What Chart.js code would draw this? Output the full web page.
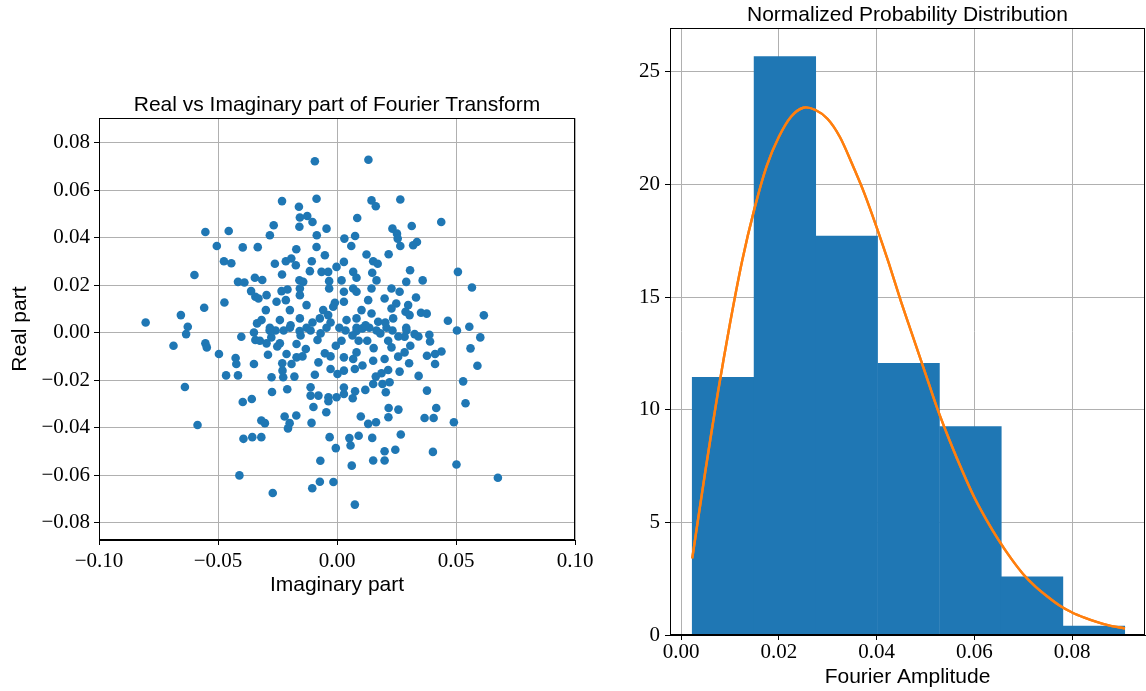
<!DOCTYPE html>
<html>
<head>
<meta charset="utf-8">
<title>Fourier Transform</title>
<script src="https://cdn.jsdelivr.net/npm/chart.js@4.4.1/dist/chart.umd.min.js"></script>
<style>
  body { margin: 0; background: #fff; }
  canvas { position: absolute; top: 0; }
  #scatterChart { left: 0; }
  #histChart { left: 600px; }
</style>
</head>
<body>
<canvas id="scatterChart" width="600" height="691"></canvas>
<canvas id="histChart" width="546" height="691"></canvas>
<script>
// imaginary part (x) and real part (y) of each Fourier coefficient
const imagPart = [
  -0.0553, -0.0455, -0.0505, -0.0396, -0.0333, -0.0475, -0.0444, -0.0599, -0.0416, -0.0389,
  -0.0345, -0.0361, -0.0343, -0.0473, -0.0558, -0.0656, -0.0804, -0.0627, -0.0336,
  -0.0634, -0.0687, -0.0553, -0.0547, -0.0496, -0.0402, -0.0349, -0.0343, -0.0426, -0.0423,
  -0.0349, -0.0466, -0.0416, -0.0639, -0.0396, -0.0358, -0.0586, -0.0393, -0.0356, -0.0410,
  0.0438, 0.0336, 0.0508, 0.0360, 0.0567, 0.0332, 0.0353, 0.0377, 0.0466, 0.0556, 0.0617, 0.0504,
  0.0342, 0.0388, 0.0391, 0.0602, 0.0308, 0.0378, 0.0412, 0.0439, 0.0412, 0.0561, 0.0590,
  0.0343, 0.0530, 0.0378, 0.0540, 0.0417, 0.0368, 0.0406, 0.0491, 0.0403, 0.0502, 0.0676,
  -0.0270, -0.0104, -0.0072, -0.0015, 0.0075, -0.0070, 0.0062, 0.0152, 0.0200, 0.0200,
  0.0245, 0.0268, 0.0148, 0.0091, 0.0052, 0.0057, -0.0005, -0.0031, -0.0318, -0.0206,
  -0.0199, -0.0220, -0.0171, -0.0107, -0.0318, -0.0303, -0.0045, -0.0099, 0.0100, 0.0131,
  0.0164, 0.0216, 0.0217, 0.0258, -0.0273, -0.0209, -0.0111, -0.0111, -0.0078, -0.0036,
  -0.0036, -0.0002, 0.0029, 0.0029, 0.0066, 0.0076, 0.0119, 0.0152, 0.0191, 0.0205,
  0.0221, 0.0187, 0.0163, 0.0215, 0.0263, -0.0275, -0.0226, -0.0179, -0.0093, -0.0027,
  0.0002, 0.0029, 0.0075, -0.0229, -0.0230, -0.0191, -0.0170, -0.0212, -0.0290, -0.0240,
  -0.0251, -0.0324, -0.0276, -0.0170, -0.0131, -0.0082, -0.0051, -0.0005, 0.0019, 0.0029,
  0.0068, 0.0082, 0.0091, 0.0127, 0.0154, 0.0152, 0.0200, 0.0215, 0.0229, 0.0257,
  0.0284, 0.0303, 0.0284, -0.0224, 0.0166, -0.0157, 0.0082,
  -0.0093, 0.0132, -0.0231, -0.0086, 0.0145, 0.0163, 0.0266, -0.0160, -0.0156, -0.0125,
  -0.0103, -0.0158, -0.0266, -0.0282, -0.0044, -0.0085, 0.0085, 0.0076, 0.0031, 0.0060,
  0.0233, 0.0252, 0.0255, 0.0266, 0.0314, 0.0320, -0.0086, -0.0171, -0.0051, -0.0215,
  -0.0192, -0.0173, -0.0261, -0.0106, 0.0124, 0.0152, 0.0171, 0.0217, 0.0029, -0.0002,
  -0.0231, -0.0114, -0.0065, -0.0037, 0.0068, 0.0148, 0.0307, -0.0314, -0.0158, -0.0142,
  -0.0033, 0.0019, 0.0082, 0.0166, 0.0291, -0.0296, -0.0233, -0.0208, -0.0156, -0.0156,
  -0.0033, 0.0029, 0.0068, 0.0082, 0.0145, 0.0229, 0.0263, -0.0330, -0.0254, -0.0215,
  -0.0128, -0.0009, 0.0029, 0.0131, 0.0200, 0.0249, 0.0299, -0.0299, -0.0198, -0.0058,
  -0.0016, 0.0103, 0.0145, 0.0229, 0.0288, -0.0317, -0.0240, -0.0156, -0.0072, -0.0037,
  0.0040, 0.0082, 0.0173, 0.0236, 0.0305,
  -0.0282, -0.0198, -0.0128, -0.0044, 0.0010, 0.0082, 0.0136, 0.0208, 0.0291,
  -0.0153, -0.0111, -0.0069, 0.0036, 0.0065, 0.0107, 0.0182, 0.0233, 0.0258, -0.0195,
  -0.0103, -0.0027, 0.0120, 0.0203, -0.0145, -0.0078, -0.0027, 0.0107, -0.0258, -0.0296,
  0.0326, -0.0283, 0.0292
];
const realPart = [
  0.0425, 0.0429, 0.0366, 0.0360, 0.0361, 0.0302, 0.0293, 0.0244, 0.0215, 0.0212,
  0.0232, 0.0176, 0.0152, 0.0128, 0.0106, 0.0075, 0.0044, 0.0026, 0.0040,
  -0.0005, -0.0054, -0.0044, -0.0061, -0.0089, -0.0016, 0.0002, -0.0030, -0.0106, -0.0131,
  -0.0131, -0.0179, -0.0179, -0.0228, -0.0291, -0.0278, -0.0388, -0.0446, -0.0439, -0.0600,
  0.0467, 0.0383, 0.0257, 0.0221, 0.0191, 0.0149, 0.0085, 0.0081, 0.0051, 0.0026, 0.0074, 0.0010,
  -0.0015, -0.0008, -0.0036, -0.0019, -0.0054, -0.0096, -0.0089, -0.0078, -0.0131, -0.0065, -0.0138,
  -0.0181, -0.0204, -0.0243, -0.0296, -0.0316, -0.0358, -0.0358, -0.0376, -0.0501, -0.0554, -0.0610,
  -0.0674, -0.0654, -0.0627, -0.0628, -0.0723, -0.0538, -0.0559, -0.0537, -0.0537, -0.0498,
  -0.0492, -0.0428, -0.0442, -0.0433, -0.0443, -0.0474, -0.0485, -0.0439, -0.0439, -0.0402,
  -0.0380, -0.0352, -0.0348, -0.0379, -0.0369, -0.0380, -0.0334, -0.0312, -0.0352, -0.0383,
  -0.0376, -0.0355, -0.0316, -0.0323, -0.0249, -0.0237, -0.0229, -0.0264, -0.0264, -0.0271,
  -0.0288, -0.0271, -0.0230, -0.0257, -0.0275, -0.0246, -0.0240, -0.0215, -0.0215, -0.0250,
  -0.0208, -0.0170, -0.0184, -0.0156, -0.0163, -0.0187, -0.0187, -0.0184, -0.0176, -0.0152,
  -0.0173, -0.0159, -0.0152, -0.0159, -0.0128, -0.0131, -0.0103, -0.0089, -0.0092, -0.0044,
  -0.0057, -0.0033, -0.0019, -0.0047, -0.0068, -0.0030, -0.0086, -0.0054, -0.0033, -0.0103,
  -0.0110, -0.0082, -0.0033, -0.0033, -0.0064, -0.0117, -0.0110, -0.0033, -0.0061, -0.0100,
  -0.0082, -0.0128, -0.0016, 0.0010, 0.0010, 0.0008, 0.0008,
  0.0723, 0.0729, 0.0555, 0.0565, 0.0558, 0.0533, 0.0562, 0.0531, 0.0486, 0.0492,
  0.0467, 0.0447, 0.0453, 0.0411, 0.0439, 0.0411, 0.0484, 0.0408, 0.0397, 0.0366,
  0.0439, 0.0418, 0.0397, 0.0366, 0.0450, 0.0369, 0.0362, 0.0352, 0.0327, 0.0302,
  0.0313, 0.0285, 0.0291, 0.0302, 0.0330, 0.0302, 0.0291, 0.0331, 0.0299, 0.0278,
  0.0246, 0.0260, 0.0257, 0.0257, 0.0257, 0.0253, 0.0264, 0.0223, 0.0222, 0.0215,
  0.0218, 0.0221, 0.0232, 0.0221, 0.0215, 0.0159, 0.0176, 0.0183, 0.0187, 0.0159,
  0.0187, 0.0173, 0.0187, 0.0173, 0.0187, 0.0187, 0.0173, 0.0145, 0.0131, 0.0138,
  0.0117, 0.0127, 0.0131, 0.0138, 0.0145, 0.0124, 0.0117, 0.0096, 0.0096, 0.0096,
  0.0110, 0.0096, 0.0082, 0.0103, 0.0089, 0.0054, 0.0054, 0.0061, 0.0061, 0.0075,
  0.0054, 0.0061, 0.0047, 0.0061, 0.0075,
  0.0022, 0.0022, 0.0022, 0.0022, 0.0022, 0.0022, 0.0022, 0.0022, 0.0022,
  -0.0011, 0.0010, -0.0002, 0.0010, -0.0011, 0.0019, -0.0002, 0.0010, -0.0015, 0.0032,
  0.0044, 0.0044, 0.0032, 0.0044, -0.0099, -0.0124, -0.0099, -0.0137, 0.0010, -0.0044,
  -0.0005, 0.0010, 0.0010
];

// histogram of the Fourier amplitude (density)
const binEdges = [0.0023, 0.0149, 0.0276, 0.0402, 0.0529, 0.0655, 0.0781, 0.0908];
const binHeights = [11.43, 25.67, 17.70, 12.06, 9.25, 2.58, 0.40];

// fitted curve
const curveX = [0.0023, 0.005, 0.0075, 0.010, 0.0125, 0.015, 0.0175, 0.020, 0.0225, 0.025,
  0.0275, 0.030, 0.0325, 0.035, 0.0375, 0.040, 0.0425, 0.045, 0.0475, 0.050, 0.0525, 0.055,
  0.0575, 0.060, 0.0625, 0.065, 0.0675, 0.070, 0.0725, 0.075, 0.0775, 0.080, 0.0825, 0.085,
  0.0875, 0.0908];
const curveY = [3.4, 7.3, 10.7, 13.8, 16.6, 18.9, 20.8, 22.1, 23.0, 23.4,
  23.3, 22.9, 22.1, 20.9, 19.6, 18.1, 16.5, 14.8, 13.2, 11.6, 10.0, 8.6,
  7.3, 6.1, 5.1, 4.2, 3.4, 2.7, 2.15, 1.7, 1.3, 1.0, 0.77, 0.58,
  0.43, 0.29];

const blue = '#1f77b4';
const orange = '#ff7f0e';
const gridGrey = '#b0b0b0';
const sansFont = { family: "'Liberation Sans', Arial, sans-serif", size: 21, weight: 'normal' };
const serifFont = { family: "'Liberation Serif', 'Times New Roman', serif", size: 21, weight: 'normal', lineHeight: 1 };

function fmt(v) {
  if (Math.abs(v) < 1e-9) return '0.00';
  return (v < 0 ? '\u2212' : '') + Math.abs(v).toFixed(2);
}

// matplotlib style box around the plot area
const framePlugin = {
  id: 'frame',
  afterDraw(chart) {
    const { ctx, chartArea: a } = chart;
    ctx.save();
    ctx.strokeStyle = '#000';
    ctx.lineWidth = 1;
    ctx.strokeRect(Math.round(a.left) + 0.5, Math.round(a.top) + 0.5,
      Math.round(a.right - a.left) - 1, Math.round(a.bottom - a.top) - 1);
    ctx.restore();
  }
};

function axisStyle(extra) {
  return Object.assign({
    type: 'linear',
    z: 1,
    grid: { color: gridGrey, lineWidth: 1, tickColor: '#000', tickLength: 5 },
    border: { color: '#000', width: 1 },
  }, extra);
}

new Chart(document.getElementById('scatterChart'), {
  type: 'scatter',
  data: {
    datasets: [{
      data: imagPart.map((x, i) => ({ x: x, y: realPart[i] })),
      backgroundColor: blue,
      borderWidth: 0,
      pointRadius: 4.3,
      pointHoverRadius: 4.3,
    }],
  },
  options: {
    responsive: false,
    animation: false,
    layout: { padding: { left: 0, right: 25, top: 0, bottom: 91 } },
    plugins: {
      legend: { display: false },
      tooltip: { enabled: false },
      title: {
        display: true,
        fullSize: false,
        text: 'Real vs Imaginary part of Fourier Transform',
        color: '#000',
        font: sansFont,
        padding: { top: 93, bottom: 0 },
      },
    },
    scales: {
      x: axisStyle({
        min: -0.1, max: 0.1,
        ticks: { stepSize: 0.05, includeBounds: false, callback: fmt, color: '#000', font: serifFont, padding: 6, maxRotation: 0 },
        title: { display: true, text: 'Imaginary part', color: '#000', font: sansFont, padding: { top: 0, bottom: 2 } },
        afterFit: (s) => { s.height = 60; },
      }),
      y: axisStyle({
        min: -0.0872, max: 0.0904,
        ticks: { stepSize: 0.02, includeBounds: false, callback: fmt, color: '#000', font: serifFont, padding: 4 },
        title: { display: true, text: 'Real part', color: '#000', font: sansFont, padding: { top: 8, bottom: 0 } },
        afterFit: (s) => { s.width = 99; },
      }),
    },
  },
  plugins: [framePlugin],
});

// grid sits over the bars; put the curve back on top of it
const curveOnTop = {
  id: 'curveOnTop',
  afterDraw(chart) {
    const meta = chart.getDatasetMeta(1);
    chart.ctx.save();
    meta.controller.draw();
    chart.ctx.restore();
  }
};

new Chart(document.getElementById('histChart'), {
  type: 'bar',
  data: {
    datasets: [
      {
        type: 'bar',
        data: binHeights.map((h, i) => ({ x: (binEdges[i] + binEdges[i + 1]) / 2, y: h })),
        backgroundColor: blue,
        borderWidth: 0,
        barPercentage: 1,
        categoryPercentage: 1,
        order: 2,
      },
      {
        type: 'line',
        data: curveX.map((x, i) => ({ x: x, y: curveY[i] })),
        borderColor: orange,
        borderWidth: 2.4,
        pointRadius: 0,
        tension: 0.3,
        fill: false,
        order: 1,
      },
    ],
  },
  options: {
    responsive: false,
    animation: false,
    layout: { padding: { left: 0, right: 1, top: 0, bottom: 0 } },
    plugins: {
      legend: { display: false },
      tooltip: { enabled: false },
      title: {
        display: true,
        fullSize: false,
        text: 'Normalized Probability Distribution',
        color: '#000',
        font: sansFont,
        padding: { top: 3, bottom: 0 },
      },
    },
    scales: {
      x: axisStyle({
        min: -0.00225, max: 0.0949,
        offset: false,
        grid: { color: gridGrey, lineWidth: 1, tickColor: '#000', tickLength: 5, offset: false },
        ticks: { stepSize: 0.02, includeBounds: false, callback: fmt, color: '#000', font: serifFont, padding: 2, maxRotation: 0, autoSkip: false },
        title: { display: true, text: 'Fourier Amplitude', color: '#000', font: sansFont, padding: { top: 0, bottom: 1 } },
        afterFit: (s) => { s.height = 56; },
      }),
      y: axisStyle({
        min: 0, max: 26.93,
        ticks: { stepSize: 5, includeBounds: false, color: '#000', font: serifFont, padding: 5 },
        afterFit: (s) => { s.width = 70; },
      }),
    },
  },
  plugins: [curveOnTop, framePlugin],
});
</script>
</body>
</html>
